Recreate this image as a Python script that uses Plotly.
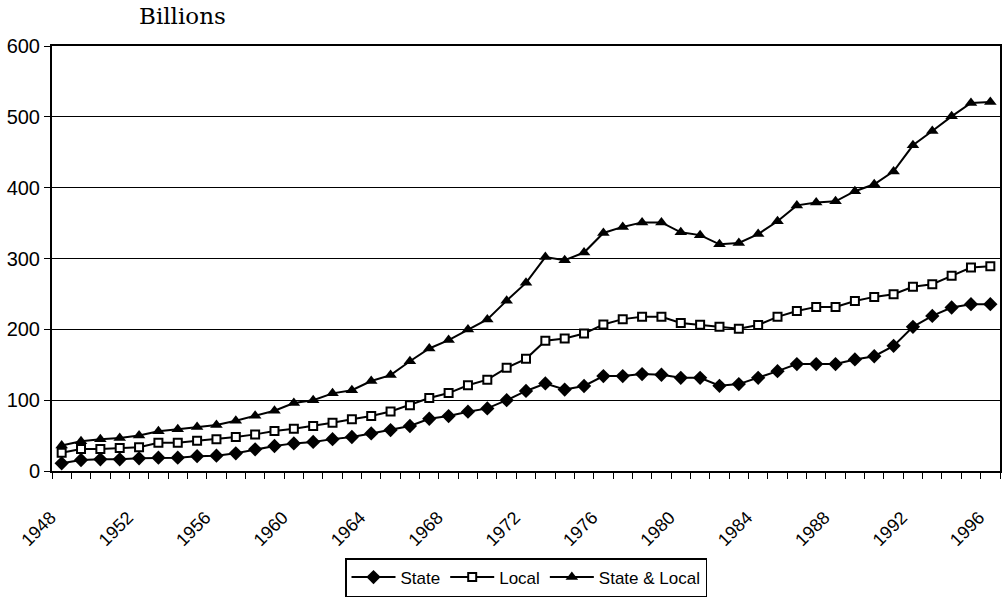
import plotly.graph_objects as go

# Government figures, billions, 1948-1996
years = list(range(1948, 1997))

state = [10.8, 15.5, 16.5, 16.5, 17.9, 18.8, 18.8, 21, 21.6, 25,
         30.6, 35.3, 39, 41, 45, 48, 53, 57.8, 63.5, 73.8,
         77.6, 83.7, 88.4, 100, 113, 123.6, 115, 120, 134, 134,
         136.8, 135.9, 131.6, 131.6, 120.3, 122.7, 131.6, 141, 151, 151,
         151, 157.5, 162, 176.7, 203.5, 219, 230.8, 235.5, 235.5]

local = [25.9, 31, 31, 32.4, 33.4, 40, 40, 42.8, 45, 47.9,
         51.7, 56.4, 59.5, 63.5, 68, 73, 77.6, 84, 93, 103,
         110, 121, 129, 145.7, 158.4, 183.8, 187, 194, 206.8, 214.4,
         217.6, 217.6, 209, 206.4, 203.5, 201, 206, 217.6, 226, 231.7,
         231.7, 240, 245.8, 249.6, 260, 263.7, 275.5, 287.3, 289]

state_local = [36, 42, 44.7, 46.5, 50, 56, 59, 62, 65, 71,
               78, 85, 96, 100, 109.6, 114, 127, 135.4, 155, 173,
               184.8, 199.8, 214, 240.5, 265.6, 302, 297.6, 308.4, 336, 344.6,
               351, 351, 337, 333, 320, 322, 334.5, 352.6, 375, 379,
               380.8, 395, 404.8, 423, 459.8, 480, 500.7, 519.5, 521]

label_years = list(range(1948, 1997, 4))
y_ticks = [0, 100, 200, 300, 400, 500, 600]

SANS = "'Liberation Sans', Arial, sans-serif"
SERIF = "'DejaVu Serif', serif"

fig = go.Figure()

fig.add_trace(go.Scatter(
    x=years, y=state, name="State", mode="lines+markers",
    line=dict(color="black", width=2),
    marker=dict(symbol="diamond", size=11, color="black"),
))
fig.add_trace(go.Scatter(
    x=years, y=local, name="Local", mode="lines+markers",
    line=dict(color="black", width=2),
    marker=dict(symbol="square", size=8, color="white",
                line=dict(color="black", width=2)),
))
fig.add_trace(go.Scatter(
    x=years, y=state_local, name="State & Local", mode="lines+markers",
    line=dict(color="black", width=2),
    marker=dict(symbol="triangle-up", size=11, color="black"),
))

fig.update_layout(
    width=1007, height=597,
    margin=dict(l=52, r=7, t=46, b=126, autoexpand=False),
    paper_bgcolor="white", plot_bgcolor="white",
    font=dict(family=SANS, color="black", size=16),
    showlegend=True,
    legend=dict(
        orientation="h", x=0.5, xanchor="center",
        yref="container", y=(597 - 558) / 597, yanchor="top",
        bordercolor="black", borderwidth=1.5, bgcolor="white",
        font=dict(family=SANS, size=17, color="black"),
        itemwidth=44, tracegroupgap=0,
    ),
    annotations=[dict(
        text="Billions", xref="paper", yref="paper", x=85/948, y=1.0,
        xanchor="left", yanchor="bottom", yshift=15, showarrow=False,
        font=dict(family=SERIF, size=23, color="black"),
    )],
)

fig.update_xaxes(
    range=[1947.5, 1996.5], automargin=False,
    tickmode="array", tickvals=label_years, ticktext=[str(y) for y in label_years],
    tickangle=-45, ticks="", ticklabelstandoff=27, ticklabelshift=-11,
    tickfont=dict(family=SANS, size=18, color="black"),
    showgrid=False, zeroline=False,
    showline=True, linecolor="black", linewidth=2, mirror=True,
    minor=dict(tickmode="array", tickvals=[y - 0.5 for y in years] + [1996.5],
               ticks="outside", ticklen=6, tickcolor="black", tickwidth=1,
               showgrid=False),
)
fig.update_yaxes(
    range=[0, 600], tickmode="array", tickvals=y_ticks, automargin=False,
    ticks="outside", ticklen=6, tickcolor="black", tickwidth=1,
    tickfont=dict(family=SANS, size=20, color="black"),
    showgrid=True, gridcolor="black", gridwidth=1, zeroline=False,
    showline=True, linecolor="black", linewidth=2, mirror=True,
)

fig.write_html("out.html")
